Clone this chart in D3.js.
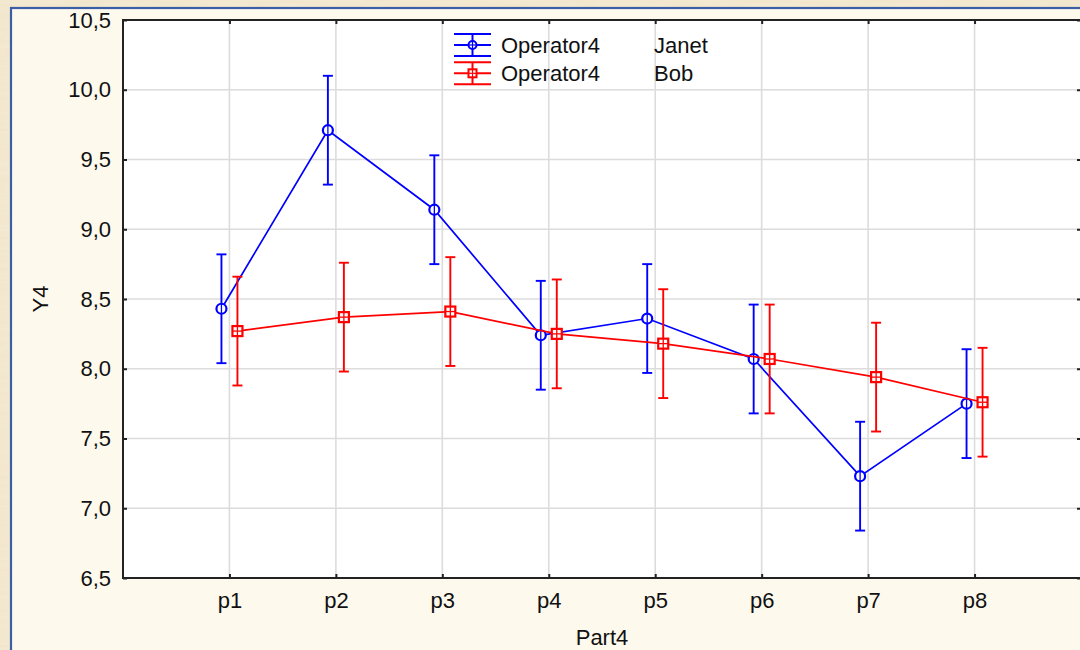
<!DOCTYPE html>
<html>
<head>
<meta charset="utf-8">
<script src="https://cdn.jsdelivr.net/npm/d3@7"></script>
<style>
  html, body { margin: 0; padding: 0; background: #efe2c4; }
  svg { display: block; }
  text { font-family: "Liberation Sans", Arial, sans-serif; fill: #111; }
</style>
</head>
<body>
<svg id="chart" width="1080" height="650"></svg>
<script>
// Part categories along the x axis
const parts = ["p1", "p2", "p3", "p4", "p5", "p6", "p7", "p8"];
// Y tick values
const yTicks = [6.5, 7.0, 7.5, 8.0, 8.5, 9.0, 9.5, 10.0, 10.5];

// Mean Y4 per part for each operator
const janetMeans = [8.43, 9.71, 9.14, 8.24, 8.36, 8.07, 7.23, 7.75];
const bobMeans   = [8.27, 8.37, 8.41, 8.25, 8.18, 8.07, 7.94, 7.76];
// Half-width of the error bars
const janetErr = [0.39, 0.39, 0.39, 0.39, 0.39, 0.39, 0.39, 0.39];
const bobErr   = [0.39, 0.39, 0.39, 0.39, 0.39, 0.39, 0.39, 0.39];

const seriesNames = ["Janet", "Bob"];
const factorName = "Operator4";

const svg = d3.select("#chart");
const W = 1080, H = 650;

// page background with a faint parchment texture
const defs = svg.append("defs");
const f = defs.append("filter").attr("id", "paper").attr("x", 0).attr("y", 0).attr("width", "100%").attr("height", "100%");
f.append("feTurbulence").attr("type", "fractalNoise").attr("baseFrequency", "0.02 0.25").attr("numOctaves", 3).attr("result", "n");
f.append("feColorMatrix").attr("type", "matrix")
  .attr("values", "0 0 0 0 0.93  0 0 0 0 0.87  0 0 0 0 0.74  0 0 0 -0.9 0.9");
svg.append("rect").attr("width", W).attr("height", H).attr("fill", "#f1e5c9");
svg.append("rect").attr("width", W).attr("height", H).attr("filter", "url(#paper)").attr("opacity", 0.6);

// chart panel
svg.append("rect").attr("x", 11).attr("y", 8).attr("width", W + 20).attr("height", H + 20)
  .attr("fill", "#fef9ed").attr("stroke", "#3b5fa6").attr("stroke-width", 2.2);

const pLeft = 123, pRight = 1081, pTop = 20, pBottom = 578;

const x = d3.scalePoint().domain(parts).range([pLeft, pRight]).padding(1);
const y = d3.scaleLinear().domain([6.5, 10.5]).range([pBottom, pTop]);
const fmt = d => d3.format(".1f")(d).replace(".", ",");

// plot area
svg.append("rect").attr("x", pLeft).attr("y", pTop).attr("width", pRight - pLeft).attr("height", pBottom - pTop).attr("fill", "#ffffff");

// grid
const grid = svg.append("g").attr("stroke", "#dcdcdc").attr("stroke-width", 1.6);
grid.selectAll("line.h").data(yTicks.slice(1, -1)).join("line").attr("class", "h")
  .attr("x1", pLeft).attr("x2", pRight).attr("y1", d => y(d)).attr("y2", d => y(d));
grid.selectAll("line.v").data(parts).join("line").attr("class", "v")
  .attr("y1", pTop).attr("y2", pBottom).attr("x1", d => x(d)).attr("x2", d => x(d));

// axes (ticks point inward)
const axisL = svg.append("g").attr("transform", `translate(${pLeft},0)`)
  .call(d3.axisLeft(y).tickValues(yTicks).tickFormat(fmt).tickSize(-4).tickPadding(12));
const axisR = svg.append("g").attr("transform", `translate(${pRight},0)`)
  .call(d3.axisRight(y).tickValues(yTicks).tickFormat("").tickSize(-4));
const axisB = svg.append("g").attr("transform", `translate(0,${pBottom})`)
  .call(d3.axisBottom(x).tickSize(-4).tickPadding(15));
const axisT = svg.append("g").attr("transform", `translate(0,${pTop})`)
  .call(d3.axisTop(x).tickFormat("").tickSize(-4));
[axisL, axisR, axisB, axisT].forEach(a => {
  a.select(".domain").remove();
  a.selectAll(".tick line").attr("stroke", "#222").attr("stroke-width", 2);
  a.selectAll(".tick text").style("font-size", "22px").style("font-family", "'Liberation Sans', Arial, sans-serif").attr("fill", "#111");
});
axisB.selectAll(".tick text").attr("dy", "0.68em");

// frame
svg.append("rect").attr("x", pLeft).attr("y", pTop).attr("width", pRight - pLeft).attr("height", pBottom - pTop)
  .attr("fill", "none").attr("stroke", "#222").attr("stroke-width", 2);

// axis titles
svg.append("text").attr("transform", `translate(48,${(pTop + pBottom) / 2}) rotate(-90)`)
  .attr("text-anchor", "middle").style("font-size", "22px").text("Y4");
svg.append("text").attr("x", (pLeft + pRight) / 2).attr("y", 645)
  .attr("text-anchor", "middle").style("font-size", "22px").text("Part4");

// series
const series = [
  { name: seriesNames[0], means: janetMeans, err: janetErr, color: "#0000ff", shape: "circle", dx: -8 },
  { name: seriesNames[1], means: bobMeans, err: bobErr, color: "#ff0000", shape: "square", dx: 8 }
];

const plot = svg.append("g");
series.forEach(s => {
  const pts = parts.map((p, i) => ({ p, m: s.means[i], e: s.err[i] }));
  const g = plot.append("g").attr("stroke", s.color).attr("fill", "none");
  // error bars
  pts.forEach(d => {
    const cx = x(d.p) + s.dx;
    g.append("line").attr("x1", cx).attr("x2", cx).attr("y1", y(d.m + d.e)).attr("y2", y(d.m - d.e)).attr("stroke-width", 1.9);
    [d.m + d.e, d.m - d.e].forEach(v => {
      g.append("line").attr("x1", cx - 5).attr("x2", cx + 5).attr("y1", y(v)).attr("y2", y(v)).attr("stroke-width", 1.9);
    });
  });
  // mean line
  g.append("path").datum(pts)
    .attr("d", d3.line().x(d => x(d.p) + s.dx).y(d => y(d.m)))
    .attr("stroke-width", 1.7);
  // markers
  pts.forEach(d => {
    const cx = x(d.p) + s.dx, cy = y(d.m);
    if (s.shape === "circle") {
      g.append("circle").attr("cx", cx).attr("cy", cy).attr("r", 5).attr("fill", "#fff").attr("stroke-width", 2.2);
      g.append("line").attr("x1", cx).attr("x2", cx).attr("y1", cy - 5).attr("y2", cy + 5).attr("stroke-width", 1.3);
    } else {
      g.append("rect").attr("x", cx - 5).attr("y", cy - 5).attr("width", 10).attr("height", 10).attr("fill", "#fff").attr("stroke-width", 2.2);
      g.append("line").attr("x1", cx).attr("x2", cx).attr("y1", cy - 5).attr("y2", cy + 5).attr("stroke-width", 1.3);
      g.append("line").attr("x1", cx - 5).attr("x2", cx + 5).attr("y1", cy).attr("y2", cy).attr("stroke-width", 1.3);
    }
  });
});

// legend
const legend = svg.append("g");
series.forEach((s, i) => {
  const cy = 45 + i * 28.3;
  const lg = legend.append("g").attr("stroke", s.color).attr("fill", "none").attr("stroke-width", 2);
  [cy - 11, cy, cy + 11].forEach(yy => lg.append("line").attr("x1", 454).attr("x2", 491).attr("y1", yy).attr("y2", yy));
  lg.append("line").attr("x1", 472.5).attr("x2", 472.5).attr("y1", cy - 11).attr("y2", cy + 11);
  if (s.shape === "circle") {
    lg.append("circle").attr("cx", 472.5).attr("cy", cy).attr("r", 4).attr("fill", "#fff");
    lg.append("line").attr("x1", 472.5).attr("x2", 472.5).attr("y1", cy - 4).attr("y2", cy + 4).attr("stroke-width", 1.2);
    lg.append("line").attr("x1", 468.5).attr("x2", 476.5).attr("y1", cy).attr("y2", cy).attr("stroke-width", 1.2);
  } else {
    lg.append("rect").attr("x", 468.5).attr("y", cy - 4).attr("width", 8).attr("height", 8).attr("fill", "#fff");
    lg.append("line").attr("x1", 472.5).attr("x2", 472.5).attr("y1", cy - 4).attr("y2", cy + 4).attr("stroke-width", 1.2);
    lg.append("line").attr("x1", 468.5).attr("x2", 476.5).attr("y1", cy).attr("y2", cy).attr("stroke-width", 1.2);
  }
  legend.append("text").attr("x", 501).attr("y", cy + 7.5).style("font-size", "22px").text(factorName);
  legend.append("text").attr("x", 654).attr("y", cy + 7.5).style("font-size", "22px").text(s.name);
});
</script>
</body>
</html>
